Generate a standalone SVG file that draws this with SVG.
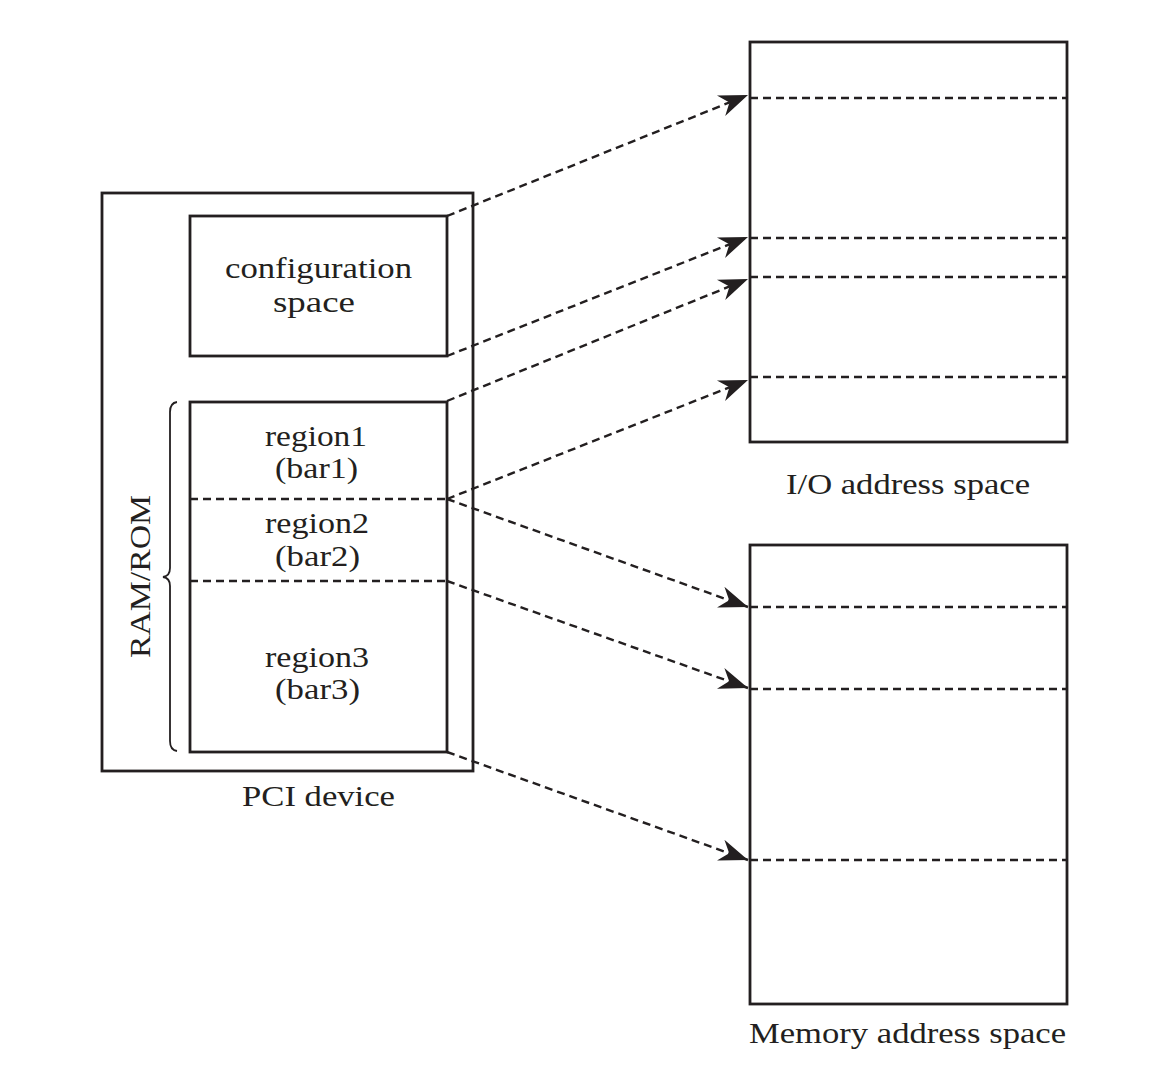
<svg xmlns="http://www.w3.org/2000/svg" width="1152" height="1065" viewBox="0 0 1152 1065">
<style>
.box{fill:none;stroke:#231f20;stroke-width:2.8}
.dl{fill:none;stroke:#231f20;stroke-width:2.4;stroke-dasharray:8 5}
.arr{fill:none;stroke:#231f20;stroke-width:2.4;stroke-dasharray:8 5;marker-end:url(#ah)}
.t{font-family:"Liberation Serif","Times New Roman",serif;font-size:30px;fill:#231f20}
</style>
<defs>
<marker id="ah" markerUnits="userSpaceOnUse" markerWidth="40" markerHeight="30" viewBox="-32 -15 34 30" refX="0" refY="0" orient="auto">
<path d="M0,0 L-29,-11 L-20,0 L-29,11 Z" fill="#231f20"/>
</marker>
</defs>
<rect width="1152" height="1065" fill="#fff"/>
<g id="pci-device">
<rect class="box" x="102" y="193" width="371" height="578"/>
<text class="t" x="242" y="806" textLength="153" lengthAdjust="spacingAndGlyphs">PCI device</text>
</g>
<g id="config-space">
<rect class="box" x="190" y="216" width="257" height="140"/>
<text class="t" x="225" y="278" textLength="187" lengthAdjust="spacingAndGlyphs">configuration</text>
<text class="t" x="273" y="312" textLength="82" lengthAdjust="spacingAndGlyphs">space</text>
</g>
<g id="regions">
<rect class="box" x="190" y="402" width="257" height="350"/>
<line class="dl" x1="190" y1="499" x2="447" y2="499"/>
<line class="dl" x1="190" y1="581" x2="447" y2="581"/>
<text class="t" x="265" y="446" textLength="102" lengthAdjust="spacingAndGlyphs">region1</text>
<text class="t" x="275" y="478" textLength="83" lengthAdjust="spacingAndGlyphs">(bar1)</text>
<text class="t" x="265" y="533" textLength="104" lengthAdjust="spacingAndGlyphs">region2</text>
<text class="t" x="275" y="566" textLength="85" lengthAdjust="spacingAndGlyphs">(bar2)</text>
<text class="t" x="265" y="667" textLength="104" lengthAdjust="spacingAndGlyphs">region3</text>
<text class="t" x="275" y="699" textLength="85" lengthAdjust="spacingAndGlyphs">(bar3)</text>
</g>
<g id="ram-rom">
<path d="M177,402 Q170,403 170,412 L170,568 Q170,576 163,577 Q170,578 170,586 L170,741 Q170,750 177,751" fill="none" stroke="#231f20" stroke-width="1.8"/>
<text class="t" transform="translate(150,658) rotate(-90)" x="0" y="0" textLength="163" lengthAdjust="spacingAndGlyphs">RAM/ROM</text>
</g>
<g id="io-space">
<rect class="box" x="750" y="42" width="317" height="400"/>
<line class="dl" x1="750" y1="98" x2="1067" y2="98"/>
<line class="dl" x1="750" y1="238" x2="1067" y2="238"/>
<line class="dl" x1="750" y1="277" x2="1067" y2="277"/>
<line class="dl" x1="750" y1="377" x2="1067" y2="377"/>
<text class="t" x="786" y="494" textLength="244" lengthAdjust="spacingAndGlyphs">I/O address space</text>
</g>
<g id="memory-space">
<rect class="box" x="750" y="545" width="317" height="459"/>
<line class="dl" x1="750" y1="607" x2="1067" y2="607"/>
<line class="dl" x1="750" y1="689" x2="1067" y2="689"/>
<line class="dl" x1="750" y1="860" x2="1067" y2="860"/>
<text class="t" x="749" y="1043" textLength="317" lengthAdjust="spacingAndGlyphs">Memory address space</text>
</g>
<g id="connectors">
<line class="arr" x1="447" y1="216" x2="748" y2="95"/>
<line class="arr" x1="447" y1="356" x2="748" y2="237"/>
<line class="arr" x1="447" y1="401" x2="748" y2="279"/>
<line class="arr" x1="447" y1="499" x2="748" y2="380"/>
<line class="arr" x1="447" y1="499" x2="748" y2="607"/>
<line class="arr" x1="447" y1="581" x2="748" y2="688"/>
<line class="arr" x1="447" y1="752" x2="748" y2="860"/>
</g>
</svg>
